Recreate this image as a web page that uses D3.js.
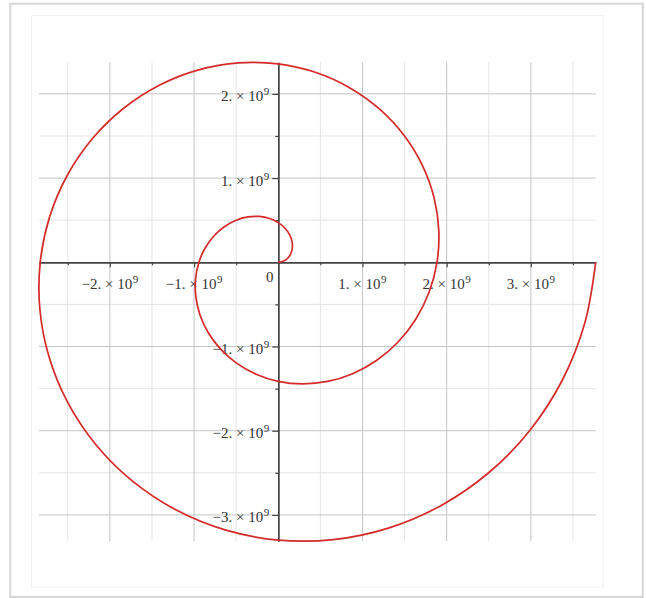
<!DOCTYPE html>
<html>
<head>
<meta charset="utf-8">
<script src="https://cdn.jsdelivr.net/npm/d3@7"></script>
<style>
  html, body { margin: 0; padding: 0; background: #ffffff; }
  svg { display: block; }
  text { font-family: "Liberation Serif", "Times New Roman", serif; fill: #333; }
</style>
</head>
<body>
<svg id="chart" width="646" height="598"></svg>
<script>
// ---- data (units of 10^9) ----
const spiralX = [0, 0.0578, 0.1088, 0.1469, 0.1666, 0.1636, 0.1353, 0.0804,
  0, -0.1034, -0.2254, -0.3600, -0.4998, -0.6367, -0.7619, -0.8666,
  -0.9425, -0.9821, -0.9796, -0.9306, -0.8330, -0.6872, -0.4959, -0.2643,
  0, 0.2873, 0.5861, 0.8836, 1.1662, 1.4204, 1.6327, 1.7910,
  1.8850, 1.9065, 1.8504, 1.7142, 1.4995, 1.2109, 0.8566, 0.4482,
  0, -0.4712, -0.9468, -1.4072, -1.8327, -2.2040, -2.5034, -2.7154,
  -2.8274, -2.8309, -2.7212, -2.4979, -2.1659, -1.7345, -1.2173, -0.6321,
  0, 0.6550, 1.3075, 1.9308, 2.4991, 2.9876, 3.3742, 3.6397, 3.7699];
const spiralY = [0, 0.0115, 0.0451, 0.0982, 0.1666, 0.2449, 0.3265, 0.4044,
  0.4712, 0.5200, 0.5442, 0.5388, 0.4998, 0.4254, 0.3156, 0.1724,
  0, -0.1954, -0.4058, -0.6218, -0.8330, -1.0285, -1.1973, -1.3288,
  -1.4137, -1.4443, -1.4150, -1.3224, -1.1662, -0.9491, -0.6763, -0.3562,
  0, 0.3792, 0.7665, 1.1454, 1.4995, 1.8122, 2.0680, 2.2532,
  2.3562, 2.3687, 2.2857, 2.1060, 1.8327, 1.4727, 1.0370, 0.5401,
  0, -0.5631, -1.1272, -1.6690, -2.1659, -2.5958, -2.9388, -3.1775,
  -3.2987, -3.2931, -3.1565, -2.8897, -2.4991, -1.9963, -1.3976, -0.7240, 0];

const xDomain = [-2.843, 3.770];
const yDomain = [-3.312, 2.375];
const xMajorTicks = [-2, -1, 1, 2, 3];
const yMajorTicks = [-3, -2, -1, 1, 2];
const xMinorTicks = [-2.5, -1.5, -0.5, 0.5, 1.5, 2.5, 3.5];
const yMinorTicks = [-2.5, -1.5, -0.5, 0.5, 1.5];
const exponentLabel = "9";

// ---- layout ----
const svg = d3.select("#chart");
const x = d3.scaleLinear().domain(xDomain).range([38.9, 595.7]);
const y = d3.scaleLinear().domain(yDomain).range([541.2, 62.3]);

// outer frame and faint inner panel
svg.append("rect").attr("x", 10.3).attr("y", 3.7).attr("width", 632.5).attr("height", 593.3)
  .attr("fill", "#ffffff").attr("stroke", "#d6d6d6").attr("stroke-width", 2);
svg.append("rect").attr("x", 31.5).attr("y", 15.5).attr("width", 571.5).attr("height", 571.5)
  .attr("fill", "none").attr("stroke", "#f1f1f1").attr("stroke-width", 1);

const [x0, x1] = x.range();
const [y0, y1] = y.range();

// grid lines
const grid = svg.append("g");
grid.selectAll(".vminor").data(xMinorTicks).join("line")
  .attr("x1", d => x(d)).attr("x2", d => x(d)).attr("y1", y1).attr("y2", y0)
  .attr("stroke", "#e4e4e4").attr("stroke-width", 1);
grid.selectAll(".hminor").data(yMinorTicks).join("line")
  .attr("y1", d => y(d)).attr("y2", d => y(d)).attr("x1", x0).attr("x2", x1)
  .attr("stroke", "#e4e4e4").attr("stroke-width", 1);
grid.selectAll(".vmajor").data(xMajorTicks).join("line")
  .attr("x1", d => x(d)).attr("x2", d => x(d)).attr("y1", y1).attr("y2", y0)
  .attr("stroke", "#c4c4c4").attr("stroke-width", 1);
grid.selectAll(".hmajor").data(yMajorTicks).join("line")
  .attr("y1", d => y(d)).attr("y2", d => y(d)).attr("x1", x0).attr("x2", x1)
  .attr("stroke", "#c4c4c4").attr("stroke-width", 1);

// axes through the origin
function styleAxis(g) {
  g.selectAll("path.domain").attr("stroke", "#444").attr("stroke-width", 1.4);
  g.selectAll(".tick line").attr("stroke", "#444").attr("stroke-width", 1.2);
  g.selectAll(".tick text").remove();
}
svg.append("g").attr("transform", `translate(0,${y(0)})`)
  .call(d3.axisBottom(x).tickValues(xMinorTicks).tickSize(3).tickSizeOuter(0).tickFormat(""))
  .call(styleAxis);
svg.append("g").attr("transform", `translate(0,${y(0)})`)
  .call(d3.axisBottom(x).tickValues(xMajorTicks).tickSize(5).tickSizeOuter(0).tickFormat(""))
  .call(styleAxis);
svg.append("g").attr("transform", `translate(${x(0)},0)`)
  .call(d3.axisLeft(y).tickValues(yMinorTicks).tickSize(3).tickSizeOuter(0).tickFormat(""))
  .call(styleAxis);
svg.append("g").attr("transform", `translate(${x(0)},0)`)
  .call(d3.axisLeft(y).tickValues(yMajorTicks).tickSize(6).tickSizeOuter(0).tickFormat(""))
  .call(styleAxis);

// tick labels "2. × 10^9"
function sciLabel(t, v) {
  const mant = (v < 0 ? "\u2212" + Math.abs(v) : String(v)) + ".";
  t.append("tspan").text(mant + " \u00d7 10");
  t.append("tspan").attr("dy", -6).attr("font-size", 11).attr("dx", 0.5).text(exponentLabel);
}
const labels = svg.append("g").attr("font-size", 15);
xMajorTicks.forEach(v => {
  const t = labels.append("text").attr("x", x(v)).attr("y", y(0) + 27)
    .attr("text-anchor", "middle");
  sciLabel(t, v);
});
yMajorTicks.forEach(v => {
  const t = labels.append("text").attr("x", x(0) - 9).attr("y", y(v) + 7.5)
    .attr("text-anchor", "end");
  sciLabel(t, v);
});
labels.append("text").attr("x", x(0) - 8.5).attr("y", y(0) + 19.5)
  .attr("text-anchor", "middle").text("0");

// spiral curve
const pts = spiralX.map((d, i) => [d, spiralY[i]]);
svg.append("path").datum(pts)
  .attr("fill", "none").attr("stroke", "#d42a2a").attr("stroke-width", 1.7)
  .attr("d", d3.line().x(d => x(d[0])).y(d => y(d[1])).curve(d3.curveCatmullRom.alpha(0.5)));
</script>
</body>
</html>
